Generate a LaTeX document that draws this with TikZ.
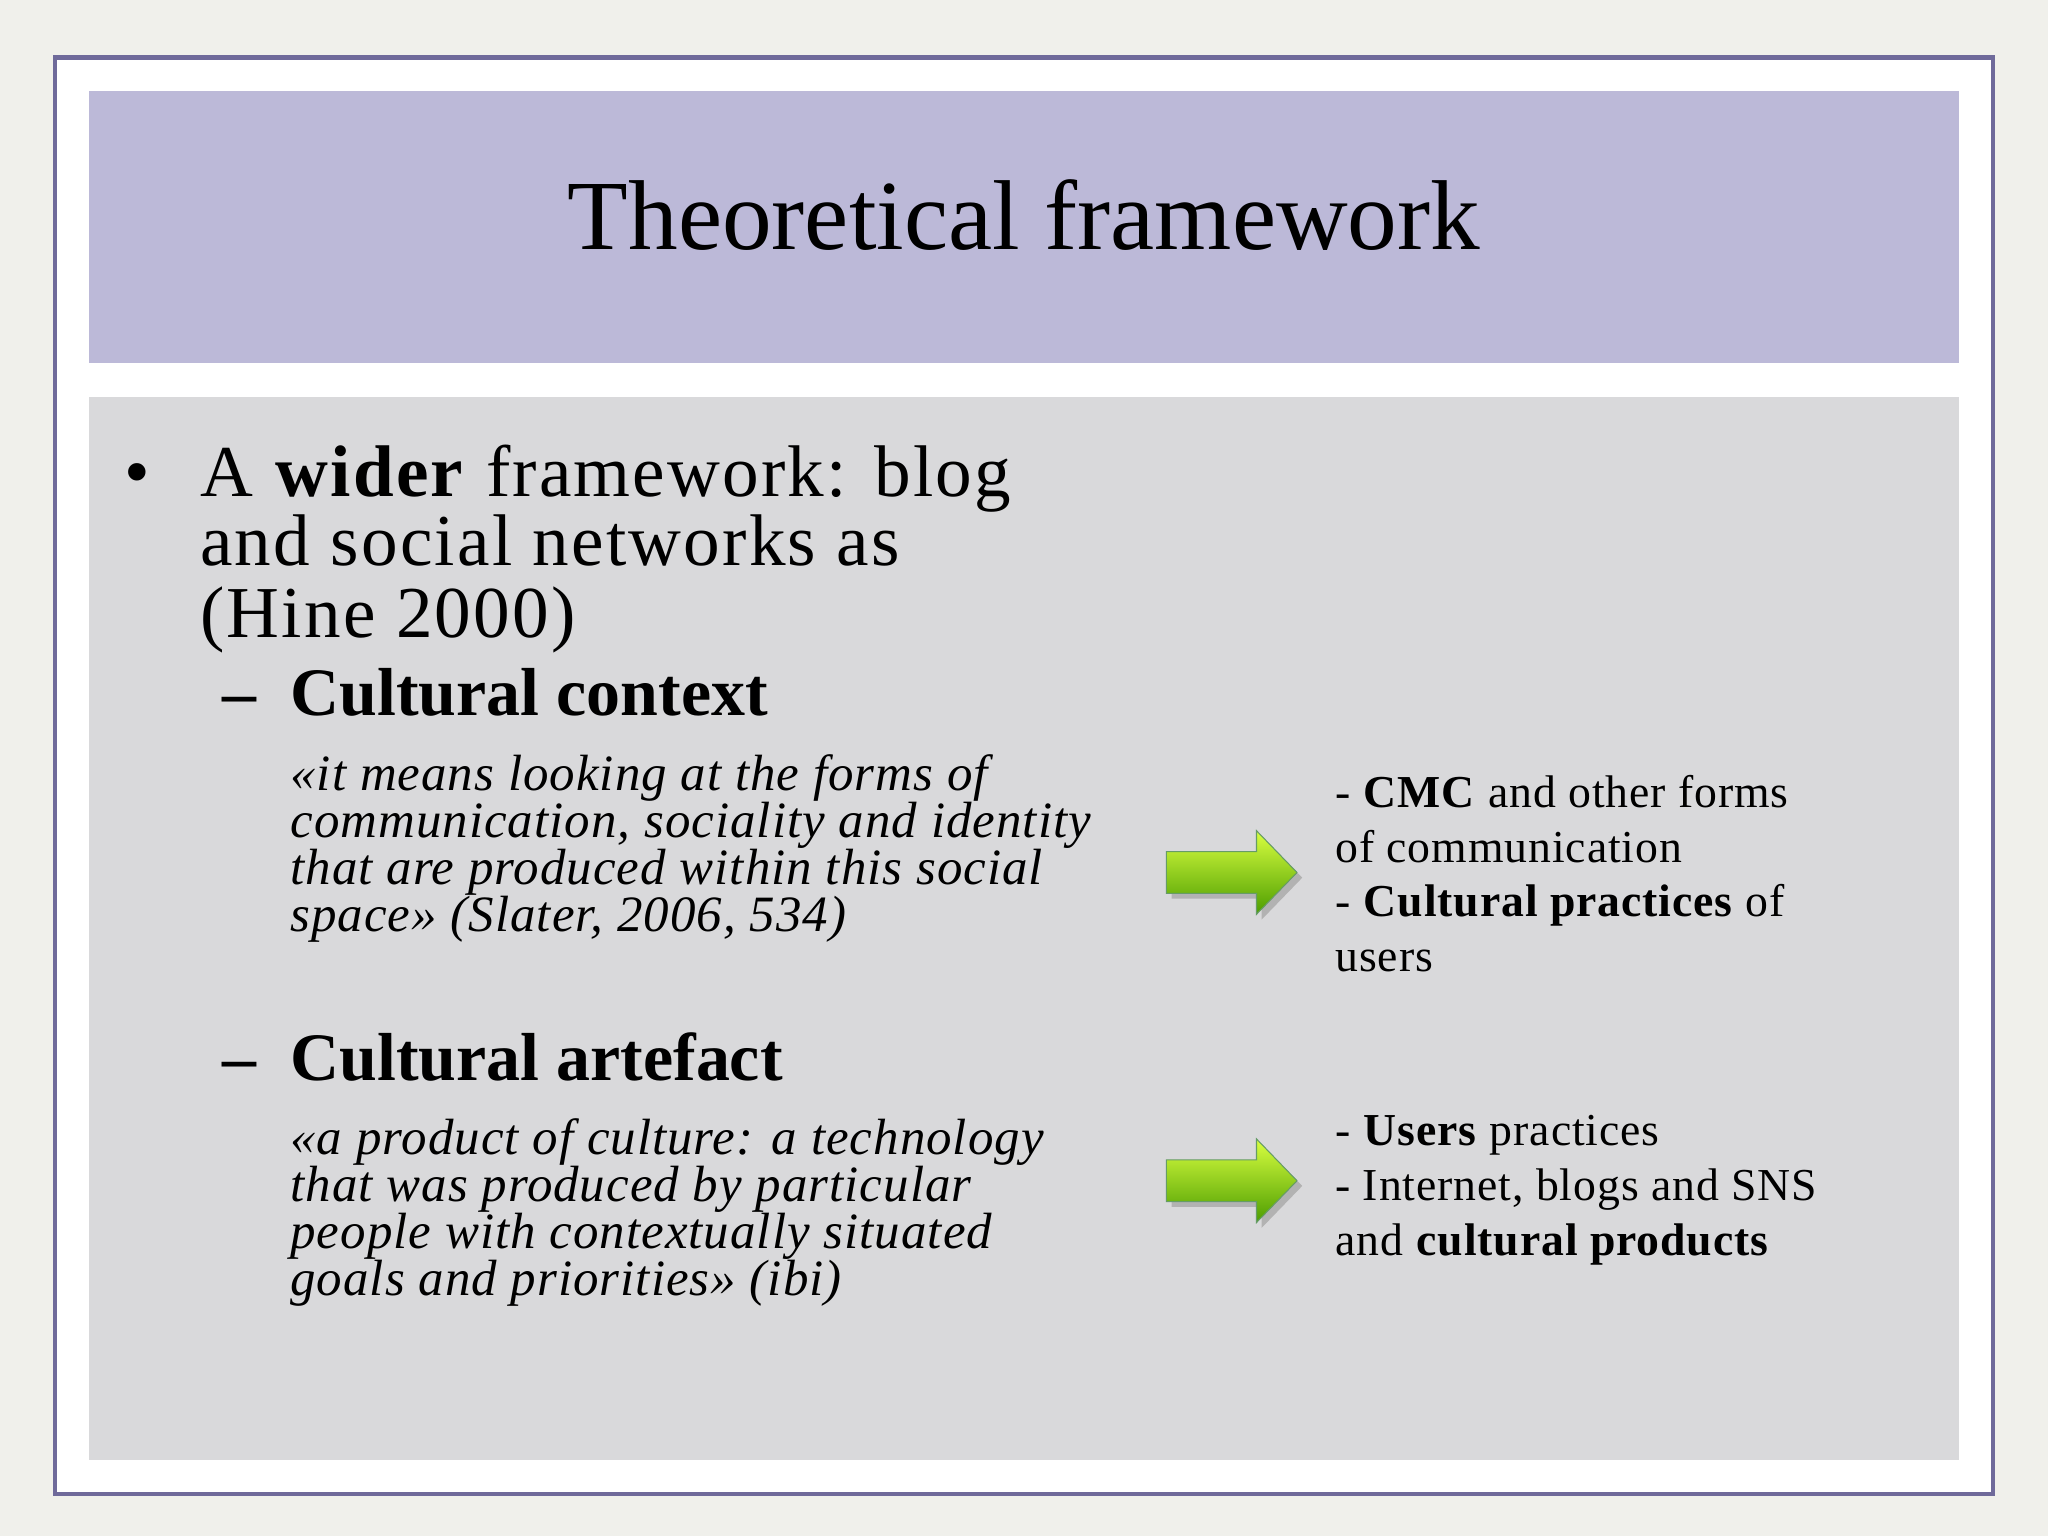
\documentclass[tikz,border=0pt]{standalone}
\usepackage{fontspec}
\setmainfont{Liberation Serif}
\begin{document}
\begin{tikzpicture}[x=0.5pt,y=-0.5pt,
  ttl/.style={font=\fontsize{38}{46}\selectfont},
  big/.style={anchor=base west,inner sep=0,font=\fontsize{28}{32}\selectfont\addfontfeature{LetterSpace=3}},
  sub/.style={anchor=base west,inner sep=0,font=\fontsize{26}{30}\selectfont\bfseries},
  quo/.style={anchor=base west,inner sep=0,font=\fontsize{19.5}{22}\selectfont\itshape\addfontfeature{LetterSpace=2}},
  rt/.style={anchor=base west,inner sep=0,font=\fontsize{17.5}{20}\selectfont\addfontfeature{LetterSpace=2}},
  garrow/.style={top color=green!20!yellow!75!white,bottom color=green!45!black!70!yellow,draw=green!35!black!60,line width=0.4pt}]
\fill[color={rgb,255:red,240;green,240;blue,235}] (0,0) rectangle (1568,1176);
\useasboundingbox (0,0) rectangle (1568,1176);
\fill[white] (42,44) rectangle (1526,1144);
\draw[line width=1.6pt,color={rgb,255:red,111;green,106;blue,154}] (42,44) rectangle (1526,1144);
\fill[color={rgb,255:red,188;green,185;blue,216}] (68,70) rectangle (1500,278);
\fill[color={rgb,255:red,217;green,217;blue,219}] (68,304) rectangle (1500,1118);
\node[ttl] (title) at (784,165) {Theoretical framework};
\node[big] (b0) at (95,380) {•};
\node[big] (b1) at (153,380) {A \textbf{wider} framework: blog};
\node[big] (b2) at (153,433) {and social networks as};
\node[big] (b3) at (153,488) {(Hine 2000)};
\node[sub] (d1) at (170,548) {–\hspace{13pt}Cultural context};
\node[quo] (q1) at (222,605) {«it means looking at the forms of};
\node[quo] (q2) at (222,641) {communication, sociality and identity};
\node[quo] (q3) at (222,677) {that are produced within this social};
\node[quo] (q4) at (222,713) {space» (Slater, 2006, 534)};
\node[sub] (d2) at (170,827) {–\hspace{13pt}Cultural artefact};
\node[quo] (p1) at (222,884) {«a product of culture: a technology};
\node[quo] (p2) at (222,920) {that was produced by particular};
\node[quo] (p3) at (222,956) {people with contextually situated};
\node[quo] (p4) at (222,992) {goals and priorities» (ibi)};
\node[rt] (r1) at (1022,618) {- \textbf{CMC} and other forms};
\node[rt] (r2) at (1022,660) {of communication};
\node[rt] (r3) at (1022,702) {- \textbf{Cultural practices} of};
\node[rt] (r4) at (1022,744) {users};
\node[rt] (s1) at (1022,877) {- \textbf{Users} practices};
\node[rt] (s2) at (1022,919) {- Internet, blogs and SNS};
\node[rt] (s3) at (1022,961) {and \textbf{cultural products}};
\foreach \yy in {668,904}{
 \fill[black!30] (897,\yy-12) -- (966,\yy-12) -- (966,\yy-28) -- (997,\yy+4) -- (966,\yy+36) -- (966,\yy+20) -- (897,\yy+20) -- cycle;
 \path[garrow] (893,\yy-16) -- (962,\yy-16) -- (962,\yy-32) -- (993,\yy) -- (962,\yy+32) -- (962,\yy+16) -- (893,\yy+16) -- cycle;
}
\end{tikzpicture}
\end{document}
